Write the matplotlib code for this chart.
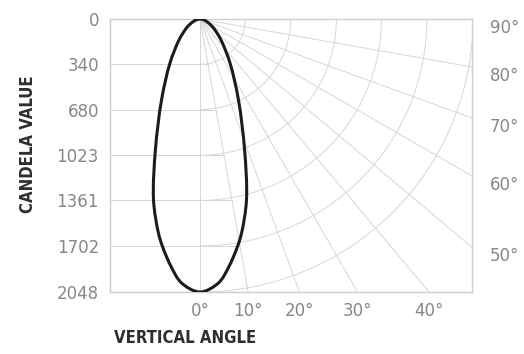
import numpy as np
import matplotlib
matplotlib.use("Agg")
import matplotlib.pyplot as pp
from matplotlib import rcParams, font_manager
from matplotlib.path import Path
from matplotlib.patches import PathPatch

# candela distribution (degrees from nadir)
angles = [0, 4.0, 6.6, 9.3, 11.0, 14.4, 18.8, 25.4, 34.3, 45, 53.7, 60, 70, 80, 90]
candela = [2048, 1985, 1873, 1733, 1635, 1402, 1038, 673, 399, 223, 140, 100, 50, 20, 0]

candela_ticks = [0, 340, 680, 1023, 1361, 1702, 2048]
bottom_angles = [0, 10, 20, 30, 40]
right_angles = [50, 60, 70, 80, 90]
grid_angles = [0, 10, 20, 30, 40, 50, 60, 70, 80, 90]

c_max = 2048
grid_color = '#d6d6d6'
label_gray = '#878787'
curve_color = '#1c1c1c'

rcParams['font.family'] = ['DejaVu Sans']

# a narrow bold face for the axis titles, if there is one
fonts = font_manager.fontManager.ttflist
narrow = [f for f in fonts if f.name == 'Liberation Sans Narrow']
cond = [f for f in fonts if f.name == 'DejaVu Sans' and 'ondensed' in f.fname]
if narrow:
    title_kw = dict(family='Liberation Sans Narrow', fontsize=13)
elif cond:
    title_kw = dict(family='DejaVu Sans', stretch='condensed', fontsize=12)
else:
    title_kw = dict(family='Liberation Sans', fontsize=11)

fig = pp.figure(figsize=(5.24, 3.54), dpi=100)
ax = fig.add_axes([110 / 524, 62 / 354, 362 / 524, 273 / 354])

units_per_px = c_max / 273.0
ax.set_xlim(-90 * units_per_px, 272 * units_per_px)
ax.set_ylim(c_max, 0)

for spine in ax.spines.values():
    spine.set_color('#cfcfcf')
    spine.set_linewidth(1.0)

# polar grid: radial lines
far = 6000
for a in grid_angles:
    t = np.radians(a)
    ax.plot([0, far * np.sin(t)], [0, far * np.cos(t)], color=grid_color, lw=0.7, zorder=1)

# arcs at each candela value
arc_t = np.radians(np.linspace(0, 90, 91))
for c in candela_ticks[1:]:
    ax.plot(c * np.sin(arc_t), c * np.cos(arc_t), color=grid_color, lw=0.7, zorder=1)

# horizontal lines on the left, up to the 10 deg ray
for c in candela_ticks[1:-1]:
    ax.plot([-1000, c * np.tan(np.radians(10))], [c, c], color=grid_color, lw=0.7, zorder=1)

# the distribution curve, mirrored about nadir, drawn as a smooth closed path
# (centripetal catmull-rom turned into cubic bezier segments)
th = np.radians(np.array(angles, dtype=float))
cd = np.array(candela, dtype=float)
th_all = np.concatenate([-th[::-1], th[1:]])
cd_all = np.concatenate([cd[::-1], cd[1:]])
pts = np.column_stack([cd_all * np.sin(th_all), cd_all * np.cos(th_all)])
n = len(pts)
verts = [pts[0]]
codes = [Path.MOVETO]
for i in range(n - 1):
    p0 = pts[i - 1] if i > 0 else pts[-2]
    p1 = pts[i]
    p2 = pts[i + 1]
    p3 = pts[i + 2] if i + 2 < n else pts[1]
    d1 = np.linalg.norm(p1 - p0) ** 0.5
    d2 = np.linalg.norm(p2 - p1) ** 0.5
    d3 = np.linalg.norm(p3 - p2) ** 0.5
    b1 = (d1 ** 2 * p2 - d2 ** 2 * p0 + (2 * d1 ** 2 + 3 * d1 * d2 + d2 ** 2) * p1) / (3 * d1 * (d1 + d2))
    b2 = (d3 ** 2 * p1 - d2 ** 2 * p3 + (2 * d3 ** 2 + 3 * d3 * d2 + d2 ** 2) * p2) / (3 * d3 * (d3 + d2))
    verts += [b1, b2, p2]
    codes += [Path.CURVE4] * 3
ax.add_patch(PathPatch(Path(verts, codes), facecolor='none', edgecolor=curve_color,
                       lw=2.2, zorder=3))

# left ticks
ax.set_yticks(candela_ticks)
ax.set_yticklabels([str(c) for c in candela_ticks])

# bottom ticks, where the rays meet the bottom edge
ax.set_xticks([c_max * np.tan(np.radians(a)) for a in bottom_angles])
ax.set_xticklabels(["{}°".format(a) for a in bottom_angles])

ax.tick_params(length=0, labelsize=12, labelcolor=label_gray)
ax.tick_params(axis='y', pad=8)
ax.tick_params(axis='x', pad=7)

# right labels, where the rays meet the right edge
xmax = ax.get_xlim()[1]
for a in right_angles:
    t = np.radians(a)
    yy = xmax * np.cos(t) / np.sin(t)
    ax.annotate("{}°".format(a), (1, yy), xycoords=('axes fraction', 'data'),
                xytext=(13, -6.5), textcoords='offset points', ha='left', va='center',
                fontsize=12, color=label_gray, annotation_clip=False)

fig.text(28 / 524, 1 - 144 / 354, "CANDELA VALUE", rotation=90, ha='center', va='center',
         fontweight='bold', color='#2e2e2e', **title_kw)
fig.text(185 / 524, 1 - 338 / 354, "VERTICAL ANGLE", ha='center', va='center',
         fontweight='bold', color='#2e2e2e', **title_kw)

fig.savefig('out.png', dpi=100, facecolor='white')
